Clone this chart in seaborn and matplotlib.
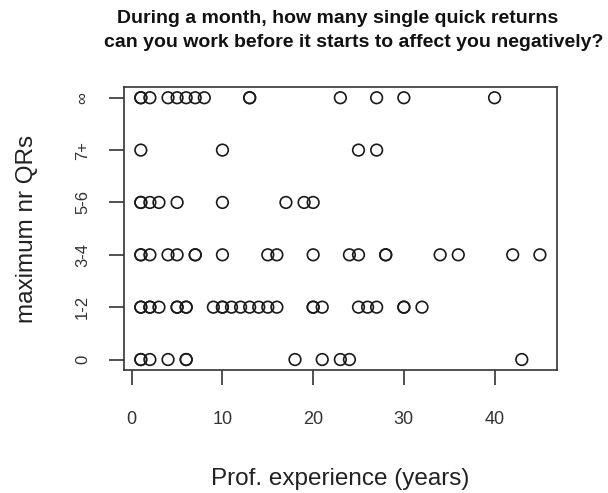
import matplotlib
matplotlib.use("Agg")
import matplotlib.pyplot as plt
import seaborn as sns
import pandas as pd

# Data: professional experience (years) for each answer category
categories = ["0", "1-2", "3-4", "5-6", "7+", "\u221e"]
exp_0 = [1, 1, 2, 4, 6, 6, 18, 21, 23, 24, 43]
exp_1_2 = [1, 1, 2, 2, 3, 5, 5, 6, 6, 9, 10, 10, 11, 12, 13, 14, 15, 16,
           20, 20, 21, 25, 26, 27, 30, 30, 32]
exp_3_4 = [1, 1, 2, 4, 5, 7, 7, 10, 15, 16, 20, 24, 25, 28, 28, 34, 36, 42, 45]
exp_5_6 = [1, 1, 2, 3, 5, 10, 17, 19, 20]
exp_7plus = [1, 10, 25, 27]
exp_inf = [1, 1, 2, 4, 5, 6, 7, 8, 13, 13, 23, 27, 30, 40]

groups = [exp_0, exp_1_2, exp_3_4, exp_5_6, exp_7plus, exp_inf]
rows = []
for level, xs in enumerate(groups):
    for v in xs:
        rows.append({"experience": v, "level": level})
df = pd.DataFrame(rows)

sns.set_style("ticks")
plt.rcParams["font.family"] = ["Liberation Sans", "DejaVu Sans"]

fig = plt.figure(figsize=(6.08, 4.93), dpi=100)
ax = fig.add_axes([0.204, 0.2495, 0.7116, 0.5735])

sns.scatterplot(data=df, x="experience", y="level", ax=ax, marker="o", s=70,
                facecolor="none", edgecolor="#1a1a1a", linewidth=1.2, legend=False)

ax.set_xlim(-0.85, 46.85)
ax.set_ylim(-0.2, 5.2)
ax.set_xticks([0, 10, 20, 30, 40])
ax.set_xticklabels(["0", "10", "20", "30", "40"], fontsize=13, color="#333333")
ax.set_yticks(range(len(categories)))
ax.set_yticklabels(categories, fontsize=12, color="#333333", rotation=90, va="center")

for sp in ax.spines.values():
    sp.set_visible(True)
    sp.set_color("#333333")
    sp.set_linewidth(1.2)
ax.tick_params(axis="both", length=10.5, width=1.2, color="#333333", direction="out")
ax.tick_params(axis="x", pad=19)
ax.tick_params(axis="y", pad=14)

ax.set_xlabel("Prof. experience (years)", fontsize=17.5, color="#222222", labelpad=29)
ax.set_ylabel("maximum nr QRs", fontsize=17.5, color="#222222", labelpad=27)

fig.text(0.555, 0.963, "During a month, how many single quick returns",
         ha="center", va="center", fontsize=14, fontweight="bold", color="#111111")
fig.text(0.582, 0.913, "can you work before it starts to affect you negatively?",
         ha="center", va="center", fontsize=14, fontweight="bold", color="#111111")

fig.savefig("out.png", dpi=100)
